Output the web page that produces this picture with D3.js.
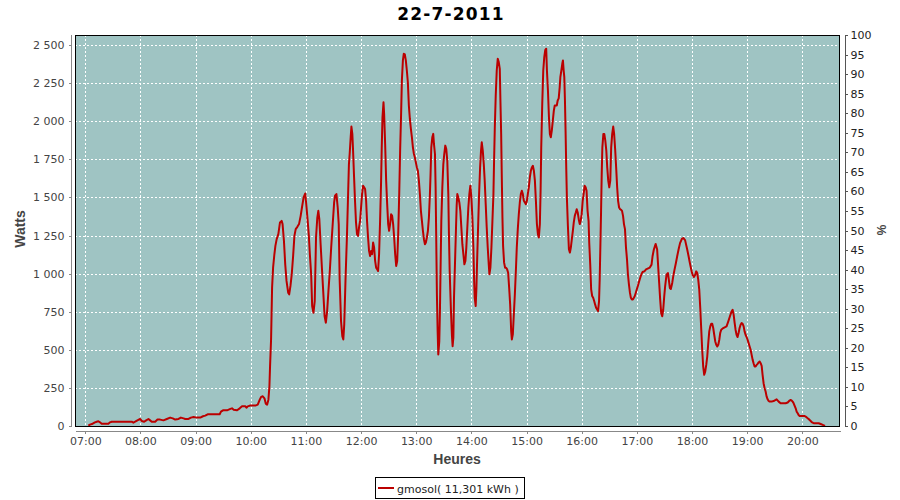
<!DOCTYPE html>
<html><head><meta charset="utf-8">
<script src="https://cdn.jsdelivr.net/npm/d3@7"></script>
<style>body{margin:0;background:#fff}svg{display:block}</style>
</head><body><svg id="c" width="900" height="500"></svg>
<script>
const chartTitle = "22-7-2011";
const seriesName = "gmosol( 11,301 kWh )";
const xLabel = "Heures";
const yLabel = "Watts";
const y2Label = "%";
const xTickHours = [7,8,9,10,11,12,13,14,15,16,17,18,19,20];
const yTicks = [0,250,500,750,1000,1250,1500,1750,2000,2250,2500];
const y2Ticks = [0,5,10,15,20,25,30,35,40,45,50,55,60,65,70,75,80,85,90,95,100];

// minutes since midnight and the power in watts
const minuteOfDay = [
423.3,425.1,428,430.5,432.4,434.2,436,437.8,445.1,446.9,448.7,470.5,472.3,474.2,476.7,479.6,481.4,484,486.2,488.7,
490.5,492.3,496,498.5,501.4,505,508.7,512.3,515.2,517.8,521.4,524,526.9,528.7,532.3,534.9,537.8,541.4,545.1,548,
550.5,553.1,566.2,567.6,569.8,574.2,577.8,579.6,581.4,585.1,588,590.5,594.2,595.3,596.7,599.6,605.1,607.6,609.8,611.3,
613.1,614.9,616.3,617.8,619.2,620.3,
621,622.1,623.2,624.3,625.7,626.8,628.2,630,631.8,633.6,634.6,636.1,637.5,638.9,640.7,641.8,643.2,644.6,646.1,647.5,
648.9,650.7,652.5,654.3,655.7,657.5,659.3,660.7,661.8,663.2,664.3,665.7,666.8,668.2,669.6,671,672.4,673.5,674.6,676,
677.4,678.9,680.3,681.7,683.1,684.5,686,687.5,688.9,690.7,691.7,693.2,694.6,695.7,696.7,698.2,699.6,700.7,701.7,703.2,
704.6,705.7,706.8,
707.6,708.7,709.5,710.5,711.3,712.4,713.5,714.5,715.6,716.7,717.8,718.9,720,721.1,722.2,723.3,724.4,725.5,726.5,727.6,
728.7,729.8,730.9,732,733.1,734.2,735.3,736.4,737.5,738.5,739.6,740.7,741.8,742.5,743.3,744.4,745.1,746.2,747.3,748.4,
749.5,750.5,751.6,752.7,753.8,754.9,756,757.1,758.2,759.3,760.4,761.5,762.5,763.6,764.4,765.5,766.5,767.6,768.7,769.8,
770.9,772,773.1,774.2,775.3,776.4,777.5,778.5,779.6,780.7,781.8,782.9,784,785.1,786.2,787.3,788.4,789.5,790.5,791.6,
792.7,793.8,794.9,795.6,796.4,797.5,798.5,799.3,800.4,801.1,801.8,802.5,803.3,804,805.1,805.8,806.5,807.3,808.4,809.5,
810.5,811.6,812.7,813.8,814.9,815.6,816.4,
817.8,818.9,819.6,820.4,821.1,822.2,823.3,824,824.7,825.8,826.9,828,829.1,830.2,831.3,832.4,833.5,834.5,835.6,836.7,
837.8,838.9,840,841.1,842.2,842.9,843.6,844.7,845.5,846.2,847.3,848.4,849.5,850.5,851.3,852.4,853.5,854.5,855.6,856.7,
857.8,858.9,859.6,860.7,861.8,862.9,864,864.7,865.5,866.5,867.6,868.7,869.8,870.9,871.6,872.4,873.1,873.8,874.5,875.6,
876.7,877.8,878.9,880,881.1,882.2,883.3,884,885.1,886.2,887.3,888.4,889.4,890.5,891.6,892.7,893.8,894.9,896,897.1,
898.2,899.3,900.4,901.4,902.5,903.6,904.7,905.8,906.9,908,909.1,910.2,911.3,912.4,913.4,914.5,915.3,916,917.1,918.2,
919.3,920.4,921.4,922.2,923.3,924.4,925.4,
926.4,927.5,928.6,929.7,930.7,931.8,932.9,933.9,935,936.1,936.8,937.9,938.9,939.6,940.4,941.1,941.8,942.5,943.2,943.9,
945,946.1,947.2,948.2,949.3,950.4,951.4,952.5,953.6,954.6,955.7,956.8,957.9,958.9,960,961.1,962.1,963.2,964.3,965.3,
966.4,967.5,968.2,969.3,970.3,971.4,972.5,973.6,974.6,975.7,976.8,977.8,978.9,979.6,980.3,981.1,981.8,982.5,983.6,984.6,
985.7,986.8,987.8,988.9,990,991.1,992.1,993.2,994.3,995.3,996.4,997.5,998.6,999.6,1000.7,1001.8,1002.8,1003.9,1005,1006,
1007.1,1008.2,1009.3,1010.3,1011.4,1012.5,1013.5,1014.6,1015.7,1016.8,1017.8,1018.9,1020,1021.1,1022.1,1023.2,1024.3,1025.3,1026.4,1027.5,
1028.5,1030,
1034.1,1036,1037.1,1038.5,1040.5,1042.1,1043.2,1044.3,1045.4,1046.5,1047.6,1048.7,1049.8,1050.8,1052.3,1053.8,1054.8,1055.9,1057,1058.5,
1059.6,1061,1062.5,1063.9,1065.4,1067,1069,1070.5,1072.5,1074.8,1076.3,1077.7,1079.2,1080.6,1082.1,1083.5,1084.6,1085.7,1086.8,1087.9,
1089,1090.1,1091.1,1092.2,1093.3,1094.4,1095.5,1096.6,1097.7,1098.8,1099.9,1100.9,1102,1103.1,1104.2,1105.3,1106.4,1107.5,1108.6,1109.7,
1110.7,1111.8,1114,1117.6,1119.5,1121.3,1123.1,1124.2,1125.3,1126.4,1127.4,1128.5,1129.6,1130.7,1131.8,1132.9,1134,1135.1,1136.2,1137.2,
1138.3,1139.4,1140.5,1141.6,1142.7,1143.8,1144.9,1146,1147,1148.1,1149.2,1150.3,1151.4,1152.5,1153.6,1154.7,1155.8,1156.8,1157.9,1159,
1160.1,1161.2,1162.3,1163.4,1164.5,1166.6,1168.8,1171,1172.1,1174.3,1176.4,1178.6,1181.9,1184.1,1186.2,1187.3,1188.4,1189.5,1190.6,1191.7,
1192.8,1193.9,1195,1196,1197.1,1202.6,1203.7,1204.8,1205.9,1207,1208,1209.1,1210.2,1211.3,1212.4,1217.8,1220,1222.2,1224.7
];
const watts = [
2,9,15,24,28,31,24,15,15,24,28,28,22,28,37,46,33,28,37,46,
37,28,28,42,42,37,46,55,50,42,46,55,50,46,46,55,59,55,55,64,
68,77,77,94,103,103,112,116,107,103,116,129,129,120,129,134,134,140,173,191,
195,182,147,140,173,261,
393,568,908,1039,1127,1182,1226,1259,1336,1346,1325,1215,1061,952,875,864,919,996,1116,1248,
1292,1307,1325,1379,1434,1500,1526,1434,1357,1248,1127,996,787,743,820,1237,1368,1412,1357,1193,
1039,875,722,678,754,886,1017,1171,1303,1467,1511,1522,1434,1325,963,689,590,568,667,985,
1237,1478,1719,
1785,1895,1965,1917,1807,1632,1467,1336,1259,1248,1303,1346,1434,1522,1577,1566,1555,1478,1346,1237,
1149,1116,1149,1127,1204,1171,1083,1039,1028,1017,1127,1346,1610,1829,2026,2125,2048,1851,1610,1456,
1325,1281,1325,1390,1379,1325,1237,1127,1050,1083,1259,1522,1807,2059,2268,2399,2443,2439,2399,2333,
2256,2103,2015,1950,1895,1829,1785,1763,1730,1697,1675,1610,1522,1412,1346,1281,1226,1193,1204,1237,
1281,1368,1522,1654,1829,1895,1917,1851,1785,1566,1215,864,623,469,557,754,1039,1346,1566,1719,
1785,1840,1818,1741,1522,1259,1017,
754,590,524,579,842,1072,1303,1445,1522,1500,1467,1412,1303,1193,1127,1061,1083,1171,1303,1434,
1522,1577,1500,1368,1171,974,842,787,908,1072,1303,1522,1697,1807,1862,1807,1719,1610,1456,1303,
1171,1061,996,1039,1171,1346,1522,1741,1961,2169,2333,2410,2388,2344,2136,1917,1632,1368,1182,1072,
1039,1039,1028,1006,908,798,623,568,601,733,864,1017,1171,1292,1390,1467,1522,1544,1522,1478,
1467,1456,1478,1522,1566,1632,1675,1697,1708,1675,1610,1478,1325,1259,1237,1325,1544,1829,2114,2333,
2421,2469,2476,2333,2202,2026,1917,
1895,1939,2004,2070,2103,2103,2103,2136,2150,2224,2289,2333,2377,2399,2333,2289,2136,1928,1697,1500,
1314,1160,1138,1171,1226,1281,1336,1379,1401,1423,1401,1357,1325,1346,1390,1478,1522,1577,1566,1544,
1412,1346,1204,1061,897,853,842,820,798,776,765,754,820,963,1171,1412,1654,1829,1917,1917,
1873,1807,1697,1610,1566,1610,1829,1917,1965,1917,1818,1697,1566,1478,1434,1423,1419,1412,1379,1325,
1292,1171,1094,996,930,875,842,831,831,842,853,875,897,919,941,963,985,1000,1013,1013,
1017,1028,
1040,1059,1114,1158,1195,1158,1048,939,829,741,720,763,851,917,993,1004,961,906,899,939,
982,1026,1070,1114,1158,1200,1228,1234,1220,1158,1114,1070,1026,993,978,993,1015,1004,961,895,
774,632,500,390,336,357,401,456,544,621,654,671,671,643,599,555,533,522,533,566,
610,632,643,654,687,720,752,763,731,676,632,599,584,610,643,665,676,671,654,621,
599,584,566,544,522,500,467,434,412,390,390,401,408,417,423,412,395,336,281,248,
226,193,175,164,160,160,164,171,175,160,149,149,149,154,167,171,167,160,149,132,
116,94,83,72,66,66,61,57,50,46,39,33,26,22,18,18,13,7,0
];

const day = (h, m, s) => new Date(2011, 6, 22, h, m || 0, s || 0);
const toDate = mins => new Date(new Date(2011, 6, 22).getTime() + mins * 60000);
const data = minuteOfDay.map((m, i) => ({t: toDate(m), w: watts[i]}));

const svg = d3.select("#c");
const L = 75, R = 840, T = 35, B = 426;
const x = d3.scaleTime().domain([day(6, 48, 48), day(20, 41, 1)]).range([L, R]);
const y = d3.scaleLinear().domain([0, 2566]).range([B, T]);
const y2 = d3.scaleLinear().domain([0, 100]).range([B, T]);

const fr = d3.formatLocale({decimal: ",", thousands: " ", grouping: [3], currency: ["", ""]});
const fmtW = fr.format(",d");

// title
svg.append("text").attr("x", 451).attr("y", 20).attr("text-anchor", "middle")
  .style("font", "bold 17px 'DejaVu Sans'").style("letter-spacing", "1.2px").attr("fill", "#000").text(chartTitle);

// plot background
svg.append("rect").attr("x", L).attr("y", T).attr("width", R - L).attr("height", B - T).attr("fill", "#9fc4c3");

// grid
const grid = svg.append("g").attr("shape-rendering", "crispEdges");
grid.selectAll("line.h").data(yTicks.filter(v => v > 0)).join("line")
  .attr("x1", L).attr("x2", R).attr("y1", d => Math.round(y(d)) + 0.5).attr("y2", d => Math.round(y(d)) + 0.5)
  .attr("stroke", "#fff").attr("stroke-dasharray", "2,2");
grid.selectAll("line.v").data(xTickHours).join("line")
  .attr("y1", T).attr("y2", B).attr("x1", d => Math.round(x(day(d))) + 0.5).attr("x2", d => Math.round(x(day(d))) + 0.5)
  .attr("stroke", "#fff").attr("stroke-dasharray", "2,2");

// series line
const line = d3.line().x(d => x(d.t)).y(d => y(d.w));
svg.append("path").datum(data).attr("d", line).attr("fill", "none")
  .attr("stroke", "#bb0000").attr("stroke-width", 2).attr("stroke-linejoin", "round");

// plot outline
svg.append("rect").attr("x", L + 0.5).attr("y", T + 0.5).attr("width", R - L - 1).attr("height", B - T)
  .attr("fill", "none").attr("stroke", "#000").attr("shape-rendering", "crispEdges");

function styleAxis(g, lineCol, txtCol) {
  g.attr("shape-rendering", "crispEdges");
  g.selectAll("path.domain").attr("stroke", lineCol);
  g.selectAll(".tick line").attr("stroke", lineCol);
  g.selectAll("text").style("font", "11px 'DejaVu Sans'").attr("fill", txtCol);
}

// left axis
const gl = svg.append("g").attr("transform", "translate(71.5,0)")
  .call(d3.axisLeft(y).tickValues(yTicks).tickFormat(fmtW).tickSize(3).tickSizeOuter(0).tickPadding(4));
gl.select("path.domain").attr("d", `M0,${T}V${B}`);
styleAxis(gl, "#888", "#444");

// bottom axis
const gb = svg.append("g").attr("transform", "translate(0,430.5)")
  .call(d3.axisBottom(x).tickValues(xTickHours.map(h => day(h))).tickFormat(d3.timeFormat("%H:%M"))
    .tickSize(3).tickSizeOuter(0).tickPadding(4));
styleAxis(gb, "#888", "#444");

// right axis
const gr = svg.append("g").attr("transform", "translate(844.5,0)")
  .call(d3.axisRight(y2).tickValues(y2Ticks).tickSize(3).tickSizeOuter(0).tickPadding(3));
styleAxis(gr, "#555", "#222");

// axis labels
svg.append("text").attr("transform", "translate(25,229) rotate(-90)").attr("text-anchor", "middle")
  .style("font", "bold 14px 'Liberation Sans'").attr("fill", "#444").text(yLabel);
svg.append("text").attr("transform", "translate(877,230) rotate(90)").attr("text-anchor", "middle")
  .style("font", "bold 12px 'Liberation Sans'").attr("fill", "#444").text(y2Label);
svg.append("text").attr("x", 457).attr("y", 464).attr("text-anchor", "middle")
  .style("font", "bold 14px 'Liberation Sans'").attr("fill", "#444").text(xLabel);

// legend
const lg = svg.append("g");
lg.append("rect").attr("x", 375.5).attr("y", 477.5).attr("width", 149).attr("height", 21)
  .attr("fill", "#fff").attr("stroke", "#000").attr("shape-rendering", "crispEdges");
lg.append("line").attr("x1", 378).attr("x2", 394).attr("y1", 488).attr("y2", 488)
  .attr("stroke", "#bb0000").attr("stroke-width", 2);
lg.append("text").attr("x", 397).attr("y", 493).style("font", "11px 'DejaVu Sans'").attr("fill", "#222").text(seriesName);
</script></body></html>
